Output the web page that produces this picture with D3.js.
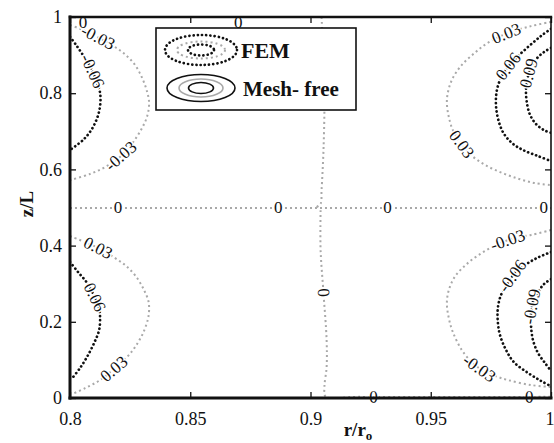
<!DOCTYPE html>
<html>
<head>
<meta charset="utf-8">
<script src="https://cdn.jsdelivr.net/npm/d3@7"></script>
<style>
  body { margin: 0; background: #fff; }
  svg { display: block; }
</style>
</head>
<body>
<div id="chart"></div>
<script>
// axis ticks
const xTicks = [0.8, 0.85, 0.9, 0.95, 1];
const yTicks = [0, 0.2, 0.4, 0.6, 0.8, 1];

// contour curves, [r/ro, z/L]
const leftTopN03 = [[0.8,0.979],[0.8042,0.969],[0.8096,0.953],[0.8167,0.929],[0.8221,0.906],[0.8267,0.877],[0.83,0.840],[0.8321,0.803],[0.8329,0.774],[0.8321,0.740],[0.83,0.709],[0.8263,0.672],[0.8217,0.638],[0.8154,0.609],[0.8083,0.588],[0.8,0.572]];
const leftTopN06 = [[0.8,0.948],[0.8025,0.927],[0.8054,0.900],[0.8083,0.871],[0.8108,0.835],[0.8125,0.801],[0.8125,0.766],[0.8113,0.735],[0.8088,0.703],[0.8054,0.677],[0.8,0.651]];
const leftBotP03 = [[0.8,0.425],[0.8071,0.407],[0.8125,0.391],[0.8188,0.367],[0.8238,0.344],[0.8279,0.315],[0.8308,0.283],[0.8325,0.257],[0.8329,0.239],[0.8325,0.210],[0.8304,0.171],[0.8271,0.134],[0.8238,0.108],[0.8188,0.079],[0.8125,0.047],[0.8063,0.026],[0.8008,0.010]];
const leftBotP06 = [[0.8,0.357],[0.8033,0.331],[0.8071,0.302],[0.81,0.268],[0.8121,0.236],[0.8125,0.213],[0.8121,0.178],[0.81,0.144],[0.8071,0.108],[0.8042,0.079],[0.8013,0.055]];
const rightTopP03 = [[1.0,0.987],[0.9917,0.976],[0.9821,0.958],[0.9742,0.934],[0.9683,0.906],[0.9625,0.871],[0.9588,0.835],[0.9571,0.801],[0.9567,0.774],[0.9575,0.738],[0.9592,0.703],[0.9625,0.669],[0.9667,0.638],[0.9725,0.612],[0.9796,0.591],[0.9867,0.575],[0.9933,0.564],[1.0,0.559]];
const rightTopP06 = [[1.0,0.969],[0.9958,0.950],[0.9904,0.921],[0.9854,0.892],[0.9821,0.869],[0.9792,0.840],[0.9775,0.808],[0.9771,0.772],[0.9779,0.735],[0.98,0.698],[0.9838,0.669],[0.9883,0.651],[0.9946,0.635],[1.0,0.622]];
const rightTopP09 = [[1.0,0.919],[0.9971,0.908],[0.9942,0.892],[0.9917,0.869],[0.9904,0.843],[0.9896,0.808],[0.99,0.774],[0.9913,0.743],[0.9938,0.719],[0.9971,0.703],[1.0,0.696]];
const rightBotN03 = [[1.0,0.441],[0.9917,0.428],[0.985,0.420],[0.9779,0.404],[0.9713,0.381],[0.965,0.352],[0.96,0.318],[0.9575,0.283],[0.9567,0.249],[0.9575,0.210],[0.9592,0.173],[0.9629,0.126],[0.9671,0.094],[0.9713,0.073],[0.9767,0.058],[0.9821,0.047],[0.9917,0.034],[1.0,0.029]];
const rightBotN06 = [[1.0,0.383],[0.995,0.370],[0.9904,0.354],[0.9854,0.331],[0.9821,0.302],[0.9792,0.270],[0.9779,0.236],[0.9779,0.199],[0.9788,0.165],[0.9813,0.126],[0.9846,0.094],[0.9904,0.066],[0.9958,0.045],[1.0,0.031]];
const rightBotN09 = [[1.0,0.312],[0.9971,0.299],[0.9946,0.278],[0.9925,0.252],[0.9917,0.223],[0.9917,0.189],[0.9925,0.152],[0.9946,0.118],[0.9975,0.092],[1.0,0.071]];
const zeroMid = [[0.8,0.499],[1.0,0.499]];
const zeroTop = [[0.8,1.0],[1.0,1.0]];
const zeroVertUp = [[0.9046,1.0],[0.9054,0.887],[0.9058,0.782],[0.9054,0.651],[0.9046,0.546],[0.9042,0.510],[0.9025,0.501]];
const zeroVertDown = [[0.9042,0.493],[0.9042,0.388],[0.9054,0.276],[0.9067,0.152],[0.9067,0.081],[0.9058,0.029],[0.9063,0.004],[0.92,0.003],[1.0,0.003]];

// level, curve, where the labels sit along it (share of length)
const contours = [
  {level: '-0.03', pts: leftTopN03, tone: 'grey', at: [0.13, 0.76]},
  {level: '-0.06', pts: leftTopN06, tone: 'black', at: [0.31]},
  {level: '0.03', pts: leftBotP03, tone: 'grey', at: [0.13, 0.79]},
  {level: '0.06', pts: leftBotP06, tone: 'black', at: [0.33]},
  {level: '0.03', pts: rightTopP03, tone: 'grey', at: [0.16, 0.65]},
  {level: '0.06', pts: rightTopP06, tone: 'black', at: [0.31]},
  {level: '0.09', pts: rightTopP09, tone: 'black', at: [0.33]},
  {level: '-0.03', pts: rightBotN03, tone: 'grey', at: [0.155, 0.74]},
  {level: '-0.06', pts: rightBotN06, tone: 'black', at: [0.25]},
  {level: '-0.09', pts: rightBotN09, tone: 'black', at: [0.33]},
  {level: '0', pts: zeroMid, tone: 'grey', at: [0.1, 0.433, 0.66, 0.985]},
  {level: '0', pts: zeroTop, tone: 'none', at: [0.027, 0.35]},
  {level: '0', pts: zeroVertUp, tone: 'grey', at: []},
  {level: '0', pts: zeroVertDown, tone: 'grey', at: [0.2, 0.57, 0.947]}
];

const W = 554, H = 443;
const plot = {left: 70, right: 551, top: 17, bottom: 398};

const x = d3.scaleLinear().domain([0.8, 1]).range([plot.left, plot.right]);
const y = d3.scaleLinear().domain([0, 1]).range([plot.bottom, plot.top]);

const svg = d3.select('#chart').append('svg')
  .attr('width', W).attr('height', H)
  .attr('viewBox', `0 0 ${W} ${H}`);

svg.append('clipPath').attr('id', 'plotclip')
  .append('rect')
    .attr('x', plot.left).attr('y', plot.top)
    .attr('width', plot.right - plot.left).attr('height', plot.bottom - plot.top);

const line = d3.line()
  .x(d => x(d[0]))
  .y(d => y(d[1]))
  .curve(d3.curveCatmullRom.alpha(0.5));

const lines = svg.append('g').attr('clip-path', 'url(#plotclip)');
const labels = svg.append('g');

contours.forEach(c => {
  const path = lines.append('path')
    .attr('d', line(c.pts))
    .attr('fill', 'none');
  if (c.tone === 'grey') {
    path.attr('stroke', '#a9a9a9').attr('stroke-width', 2).attr('stroke-dasharray', '2 3');
  } else if (c.tone === 'black') {
    path.attr('stroke', '#111').attr('stroke-width', 2.7)
      .attr('stroke-linecap', 'round').attr('stroke-dasharray', '0.1 4.1');
  } else {
    path.attr('stroke', 'none');
  }
  const node = path.node();
  const len = node.getTotalLength();
  c.at.forEach(t => {
    const s = t * len;
    const p = node.getPointAtLength(s);
    const a = node.getPointAtLength(Math.max(0, s - 3));
    const b = node.getPointAtLength(Math.min(len, s + 3));
    let ang = Math.atan2(b.y - a.y, b.x - a.x) * 180 / Math.PI;
    if (ang > 90) ang -= 180;
    if (ang < -90) ang += 180;
    // labels on the top edge hang just under the frame
    const dy = c.tone === 'none' ? 5 : 0;
    labels.append('text')
      .attr('transform', `translate(${p.x},${p.y + dy}) rotate(${ang})`)
      .attr('text-anchor', 'middle')
      .attr('dominant-baseline', 'central')
      .attr('font-family', 'Liberation Serif, serif')
      .attr('font-size', '17px')
      .attr('fill', '#111')
      .attr('stroke', '#fff').attr('stroke-width', 3).attr('paint-order', 'stroke')
      .text(c.level);
  });
});

// legend
const legend = svg.append('g');
legend.append('rect')
  .attr('x', 156).attr('y', 28).attr('width', 200).attr('height', 82)
  .attr('fill', '#fff').attr('stroke', '#111').attr('stroke-width', 1.6);

const femRings = [
  {rx: 36, ry: 15, tone: 'black'},
  {rx: 24, ry: 8.5, tone: 'grey'},
  {rx: 13, ry: 5.5, tone: 'black'}
];
const meshRings = [
  {rx: 34, ry: 13.5, tone: 'black'},
  {rx: 22, ry: 9, tone: 'grey'},
  {rx: 12.5, ry: 5.5, tone: 'black'}
];
femRings.forEach(r => {
  const e = legend.append('ellipse')
    .attr('cx', 201).attr('cy', 50).attr('rx', r.rx).attr('ry', r.ry)
    .attr('fill', 'none');
  if (r.tone === 'grey') e.attr('stroke', '#a9a9a9').attr('stroke-width', 2).attr('stroke-dasharray', '2 3');
  else e.attr('stroke', '#111').attr('stroke-width', 2.7).attr('stroke-linecap', 'round').attr('stroke-dasharray', '0.1 4.1');
});
meshRings.forEach(r => {
  legend.append('ellipse')
    .attr('cx', 201).attr('cy', 88).attr('rx', r.rx).attr('ry', r.ry)
    .attr('fill', 'none')
    .attr('stroke', r.tone === 'grey' ? '#a9a9a9' : '#111')
    .attr('stroke-width', r.tone === 'grey' ? 1.6 : 1.6);
});
legend.append('text').attr('x', 241).attr('y', 58)
  .attr('font-family', 'Liberation Serif, serif').attr('font-weight', 'bold')
  .attr('font-size', '22px').attr('fill', '#111').text('FEM');
legend.append('text').attr('x', 243).attr('y', 96)
  .attr('font-family', 'Liberation Serif, serif').attr('font-weight', 'bold')
  .attr('font-size', '21px').attr('fill', '#111').text('Mesh- free');

// axes with inward ticks
const tickStyle = g => {
  g.select('.domain').remove();
  g.selectAll('.tick line').attr('stroke', '#111').attr('stroke-width', 1.3);
  g.selectAll('.tick text')
    .attr('font-family', 'Liberation Serif, serif')
    .attr('font-size', '18px').attr('fill', '#111');
};
const fmt = d => String(d);

svg.append('g').attr('transform', `translate(0,${plot.bottom})`)
  .call(d3.axisBottom(x).tickValues(xTicks).tickFormat(fmt).tickSizeInner(-6).tickSizeOuter(0).tickPadding(14))
  .call(tickStyle)
  // last label sits against the window edge
  .call(g => g.selectAll('.tick text').filter(d => d === 1).attr('text-anchor', 'end').attr('x', 3));
svg.append('g').attr('transform', `translate(0,${plot.top})`)
  .call(d3.axisTop(x).tickValues(xTicks).tickFormat('').tickSizeInner(-6).tickSizeOuter(0))
  .call(tickStyle);
svg.append('g').attr('transform', `translate(${plot.left},0)`)
  .call(d3.axisLeft(y).tickValues(yTicks).tickFormat(fmt).tickSizeInner(-6).tickSizeOuter(0).tickPadding(8))
  .call(tickStyle);
svg.append('g').attr('transform', `translate(${plot.right},0)`)
  .call(d3.axisRight(y).tickValues(yTicks).tickFormat('').tickSizeInner(-6).tickSizeOuter(0))
  .call(tickStyle);

// frame
const frame = svg.append('g').attr('stroke', '#111').attr('stroke-linecap', 'square');
frame.append('line').attr('x1', plot.left).attr('x2', plot.right).attr('y1', plot.bottom).attr('y2', plot.bottom).attr('stroke-width', 3);
frame.append('line').attr('x1', plot.left).attr('x2', plot.left).attr('y1', plot.top).attr('y2', plot.bottom).attr('stroke-width', 3);
frame.append('line').attr('x1', plot.left).attr('x2', plot.right).attr('y1', plot.top).attr('y2', plot.top).attr('stroke-width', 2.4);
frame.append('line').attr('x1', plot.right).attr('x2', plot.right).attr('y1', plot.top).attr('y2', plot.bottom).attr('stroke-width', 1.6);

// axis titles
const xt = svg.append('text').attr('x', 358).attr('y', 436)
  .attr('text-anchor', 'middle')
  .attr('font-family', 'Liberation Serif, serif').attr('font-weight', 'bold')
  .attr('font-size', '19px').attr('fill', '#111');
xt.append('tspan').text('r/r');
xt.append('tspan').attr('dy', 4).attr('font-size', '13px').text('o');

svg.append('text')
  .attr('transform', 'translate(33,204) rotate(-90)')
  .attr('text-anchor', 'middle')
  .attr('font-family', 'Liberation Serif, serif').attr('font-weight', 'bold')
  .attr('font-size', '19px').attr('fill', '#111')
  .text('z/L');
</script>
</body>
</html>
